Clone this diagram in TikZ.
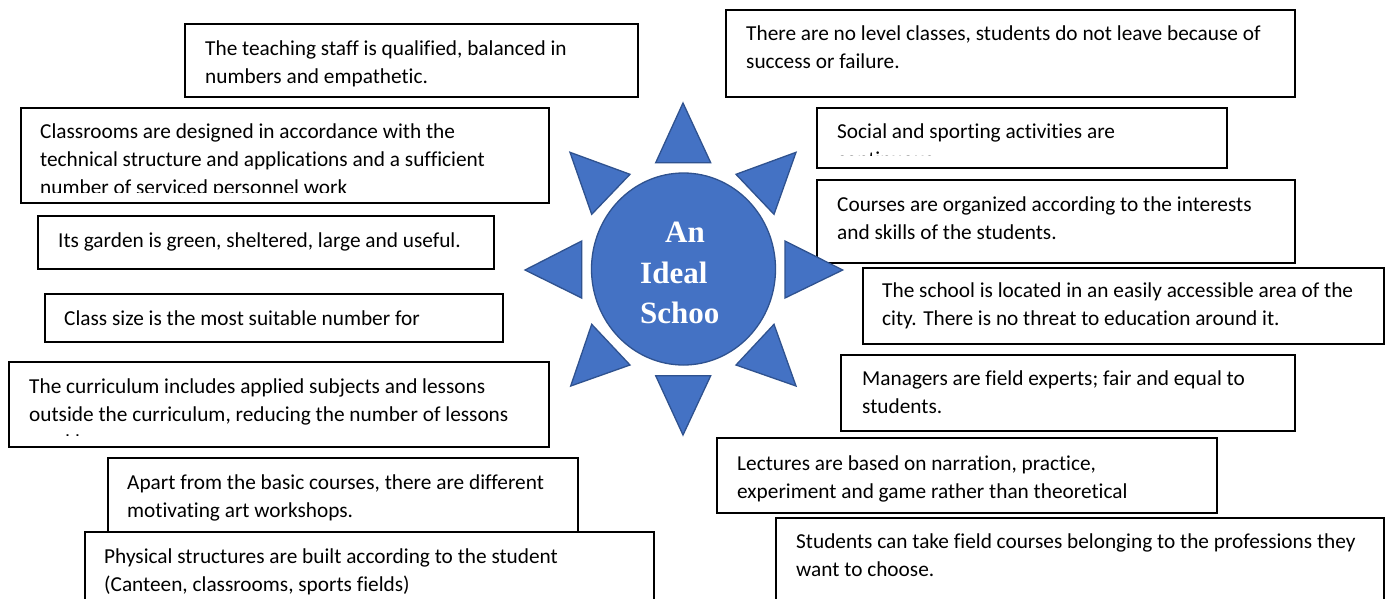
\documentclass[tikz,border=0pt]{standalone}
\usepackage{fontspec}
\setmainfont{Carlito}[Ligatures=NoCommon]
\newfontfamily\sunfont{Liberation Serif}
\usetikzlibrary{shapes.geometric}
\definecolor{sunblue}{HTML}{4472C4}
\definecolor{sunedge}{HTML}{2F528F}
\newcommand\fs{\fontsize{21.3}{28}\selectfont}
\begin{document}
\begin{tikzpicture}[x=1pt,y=-1pt,
  boxst/.style={draw=black, line width=1.6pt, fill=white, rectangle, inner sep=0pt, anchor=north west},
  txt/.style={inner sep=0pt, anchor=base west, font=\fs, text=black},
  sunfill/.style={fill=sunblue, draw=sunedge, line width=1.3pt, line join=miter},
  suntxt/.style={inner sep=0pt, anchor=base west, text=white, font=\sunfont\bfseries\fontsize{31}{40.5}\selectfont}]
\fill[white] (0,0) rectangle (1387,598);
\useasboundingbox (0,0) rectangle (1387,598);
\begin{scope}
\clip (0,0) rectangle (1387,598);
% left column
\node[boxst, minimum width=453pt, minimum height=73pt] (teach) at (184,23) {};
\node[txt] (teachT) at (205,55) {\parbox[t]{600pt}{The teaching staff is qualified, balanced in\\numbers and empathetic.}};

\node[boxst, minimum width=528pt, minimum height=95pt] (class) at (20,107) {};
\begin{scope}
\clip (20,107) rectangle (548,192);
\node[txt] (classT) at (40,138) {\parbox[t]{600pt}{Classrooms are designed in accordance with the\\technical structure and applications and a sufficient\\number of serviced personnel work}};
\end{scope}

\node[boxst, minimum width=456pt, minimum height=53pt] (garden) at (37,215) {};
\node[txt] (gardenT) at (58,247) {Its garden is green, sheltered, large and useful.};

\node[boxst, minimum width=458pt, minimum height=48pt] (size) at (44,293) {};
\node[txt] (sizeT) at (64,325) {Class size is the most suitable number for};

\node[boxst, minimum width=540pt, minimum height=85pt] (curr) at (8,361) {};
\begin{scope}
\clip (8,361) rectangle (548,435);
\node[txt] (currT) at (29,393) {\parbox[t]{600pt}{The curriculum includes applied subjects and lessons\\outside the curriculum, reducing the number of lessons\\weekly.}};
\end{scope}

\node[boxst, minimum width=470pt, minimum height=83pt] (apart) at (107,457) {};
\node[txt] (apartT) at (127,489) {\parbox[t]{600pt}{Apart from the basic courses, there are different\\motivating art workshops.}};

\node[boxst, minimum width=569pt, minimum height=80pt] (phys) at (84,531) {};
\node[txt] (physT) at (104,563) {\parbox[t]{600pt}{Physical structures are built according to the student\\(Canteen, classrooms, sports fields)}};

% right column
\node[boxst, minimum width=569pt, minimum height=87pt] (there) at (725,9) {};
\node[txt] (thereT) at (746,40) {\parbox[t]{600pt}{There are no level classes, students do not leave because of\\success or failure.}};

\node[boxst, minimum width=410pt, minimum height=60pt] (social) at (816,107) {};
\begin{scope}
\clip (816,107) rectangle (1226,155);
\node[txt] (socialT) at (837,138) {\parbox[t]{600pt}{Social and sporting activities are\\continuous.}};
\end{scope}

\node[boxst, minimum width=478pt, minimum height=83pt] (courses) at (816,179) {};
\node[txt] (coursesT) at (837,211) {\parbox[t]{600pt}{Courses are organized according to the interests\\and skills of the students.}};

\node[boxst, minimum width=521pt, minimum height=76pt] (school) at (862,267) {};
\node[txt] (schoolT) at (882,297) {\parbox[t]{600pt}{The school is located in an easily accessible area of the\\city. There is no threat to education around it.}};

\node[boxst, minimum width=454pt, minimum height=76pt] (manag) at (840,354) {};
\node[txt] (managT) at (862,385) {\parbox[t]{600pt}{Managers are field experts; fair and equal to\\students.}};

\node[boxst, minimum width=500pt, minimum height=75pt] (lect) at (716,437) {};
\node[txt] (lectT) at (737,470) {\parbox[t]{600pt}{Lectures are based on narration, practice,\\experiment and game rather than theoretical}};

\node[boxst, minimum width=608pt, minimum height=95pt] (stud) at (775,517) {};
\node[txt] (studT) at (796,548) {\parbox[t]{600pt}{Students can take field courses belonging to the professions they\\want to choose.}};
\end{scope}

% sun
\filldraw[sunfill] (683,103) -- (710.7,162.7) -- (655.7,162.7) -- cycle;
\filldraw[sunfill] (683,435) -- (710.7,375.7) -- (655.7,375.7) -- cycle;
\filldraw[sunfill] (525,270) -- (581.7,241) -- (581.7,298) -- cycle;
\filldraw[sunfill] (842.7,270) -- (785,241) -- (785,298) -- cycle;
\filldraw[sunfill] (570,152.3) -- (630,174.3) -- (591.7,214.3) -- cycle;
\filldraw[sunfill] (796,152.3) -- (736,174.3) -- (774,214.3) -- cycle;
\filldraw[sunfill] (570.7,386) -- (591.7,324.3) -- (630,365) -- cycle;
\filldraw[sunfill] (796,386) -- (774,324.3) -- (736,365) -- cycle;
\node[sunfill, ellipse, minimum width=184pt, minimum height=192pt, inner sep=0pt] (sun) at (683.5,269) {};
\node[suntxt] (sunT) at (640,242.7) {\parbox[t]{200pt}{\hspace*{25pt}An\\Ideal\\Schoo}};
\end{tikzpicture}
\end{document}
